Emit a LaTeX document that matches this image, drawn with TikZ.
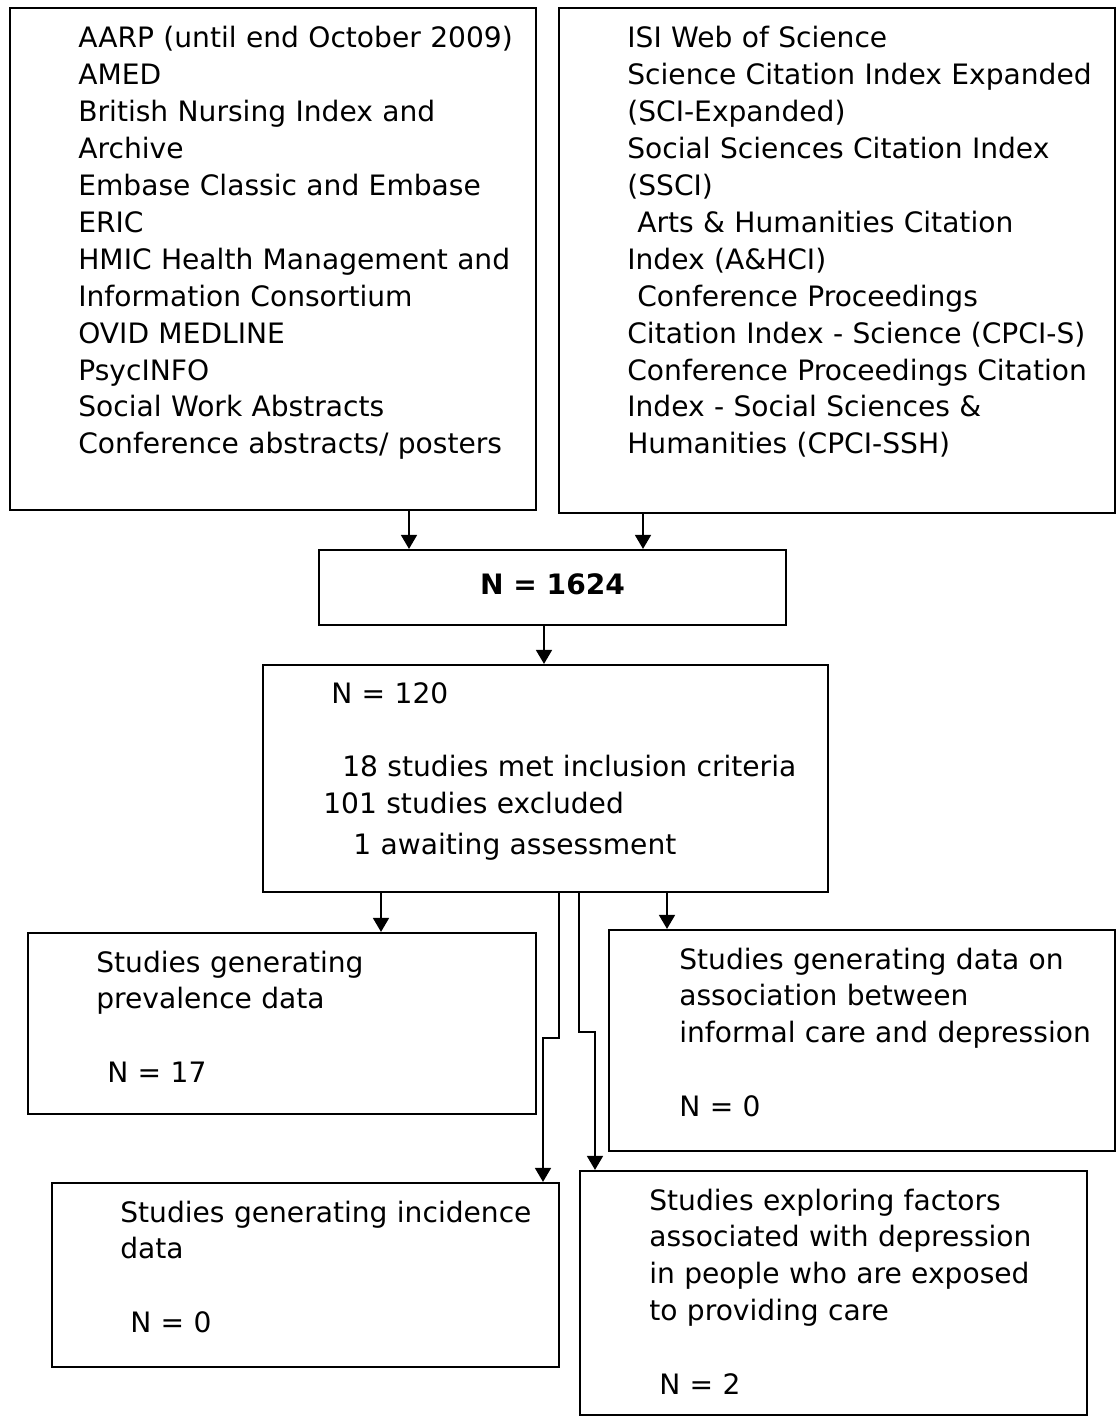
\documentclass[tikz,border=0pt]{standalone}
\usepackage{fontspec}
\setmainfont{DejaVu Sans}
\usetikzlibrary{fit,arrows.meta}

\begin{document}
\begin{tikzpicture}[x=0.02cm,y=-0.02cm,
    txt/.style={anchor=base west,inner sep=0,text width=11cm,align=left,font=\fontsize{16}{21}\selectfont},
    arr/.style={line width=1.3pt,-{Triangle[length=8pt,width=9pt]}}]
                \useasboundingbox (0,0) rectangle (1116,1416);
                \begin{scope}[every node/.style={draw=black,line width=1.2pt,inner sep=0}]
                    \node[fit={(10,8) (536,510)}] (src1) {};
                    \node[fit={(559,8) (1115,513)}] (src2) {};
                    \node[fit={(319,550) (786,625)}] (n1624) {};
                    \node[fit={(263,665) (828,892)}] (n120) {};
                    \node[fit={(28,933) (536,1114)}] (prev) {};
                    \node[fit={(609,930) (1115,1151)}] (assoc) {};
                    \node[fit={(52,1183) (559,1367)}] (incid) {};
                    \node[fit={(580,1171) (1087,1415)}] (fact) {};
                \end{scope}
                \begin{scope}[every node/.style={txt}]
                    \node (src1txt) at (78,48) {AARP (until end October 2009)\\ AMED\\ British Nursing Index and\\ Archive\\ Embase Classic and Embase\\ ERIC\\ HMIC Health Management and\\ Information Consortium\\ OVID MEDLINE\\ PsycINFO\\ Social Work Abstracts\\ Conference abstracts/ posters};
                    \node (src2txt) at (627,48) {ISI Web of Science\\ Science Citation Index Expanded\\ (SCI-Expanded)\\ Social Sciences Citation Index\\ (SSCI)\\ \hspace*{0.2cm}Arts \& Humanities Citation\\ Index (A\&HCI)\\ \hspace*{0.2cm}Conference Proceedings\\ Citation Index - Science (CPCI-S)\\ Conference Proceedings Citation\\ Index - Social Sciences \&\\ Humanities (CPCI-SSH)};
                    \node[anchor=base,text width=,align=center,font=\fontsize{16}{21}\selectfont\bfseries] (n1624txt) at (n1624.center |- 0,594) {N = 1624};
                    \node (n120txt) at (323,703) {\hspace*{0.16cm}N = 120\\[\baselineskip] \hspace*{0.38cm}18 studies met inclusion criteria\\ 101 studies excluded\\[2pt] \hspace*{0.6cm}1 awaiting assessment};
                    \node (prevtxt) at (96,972) {Studies generating\\ prevalence data\\[\baselineskip] \hspace*{0.22cm}N = 17};
                    \node (assoctxt) at (679,969) {Studies generating data on\\ association between\\ informal care and depression\\[\baselineskip] N = 0};
                    \node (incidtxt) at (120,1222) {Studies generating incidence\\ data\\[\baselineskip] \hspace*{0.2cm}N = 0};
                    \node (facttxt) at (649,1210) {Studies exploring factors\\ associated with depression\\ in people who are exposed\\ to providing care\\[\baselineskip] \hspace*{0.2cm}N = 2};
                \end{scope}
                \begin{scope}[every path/.style={arr}]
                    \draw (409,0 |- src1.south) -- (409,0 |- n1624.north);
                    \draw (643,0 |- src2.south) -- (643,0 |- n1624.north);
                    \draw (544,0 |- n1624.south) -- (544,0 |- n120.north);
                    \draw (381,0 |- n120.south) -- (381,0 |- prev.north);
                    \draw (667,0 |- n120.south) -- (667,0 |- assoc.north);
                    \draw (559,0 |- n120.south) |- (543,1038) -- (543,0 |- incid.north);
                    \draw (579,0 |- n120.south) |- (595,1032) -- (595,0 |- fact.north);
                \end{scope}
            \end{tikzpicture}
\end{document}
